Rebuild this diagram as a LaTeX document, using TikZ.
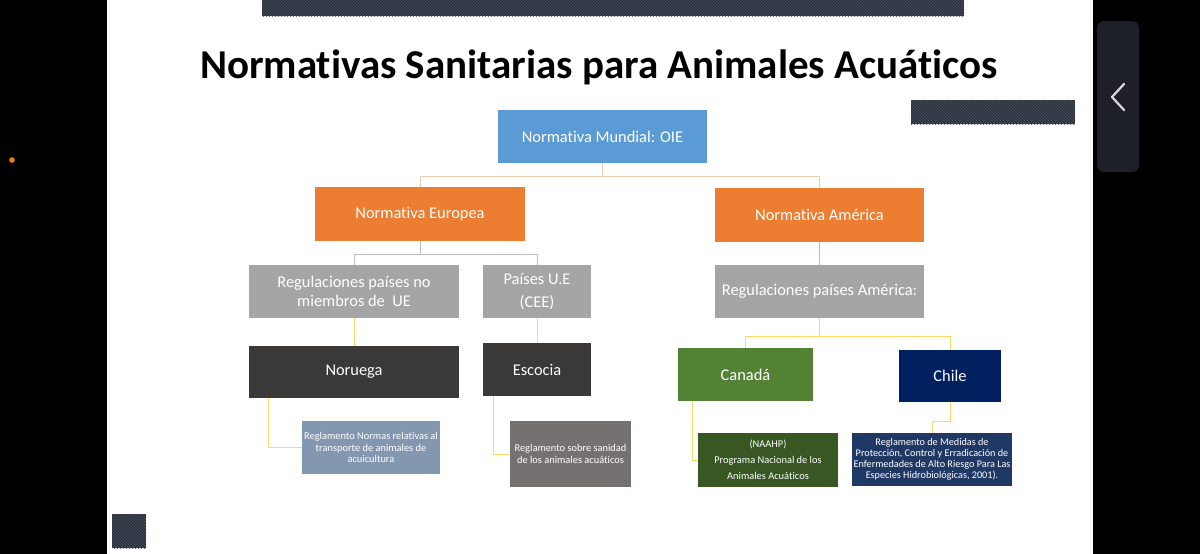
\documentclass[tikz,border=0pt]{standalone}
\usepackage{fontspec}
\setmainfont[Ligatures=NoCommon]{Carlito}
\usetikzlibrary{positioning,patterns}

\definecolor{azulOIE}{HTML}{5B9BD5}
\definecolor{naranja}{HTML}{ED7D31}
\definecolor{gris}{HTML}{A5A5A5}
\definecolor{oscuro}{HTML}{3B3838}
\definecolor{grisazul}{HTML}{8497B0}
\definecolor{grismedio}{HTML}{767171}
\definecolor{verde}{HTML}{548235}
\definecolor{verdeosc}{HTML}{385723}
\definecolor{marino}{HTML}{002060}
\definecolor{marinodet}{HTML}{203864}
\definecolor{lineatan}{HTML}{EDCDAE}
\definecolor{lineagris}{HTML}{BDBDBD}
\definecolor{lineaamar}{HTML}{FFD966}
\definecolor{barra}{HTML}{2C323D}
\definecolor{barralinea}{HTML}{4A515E}
\definecolor{boton}{HTML}{1E2028}

\begin{document}
\begin{tikzpicture}[x=1pt, y=-1pt,
                    every node/.append style={align=center, text=white},
                    caja/.style={fill=#1, inner sep=2pt, font=\fontsize{16.4}{19.5}\selectfont},
                    det/.style={fill=#1, inner sep=2pt, font=\fontsize{10.4}{11.2}\selectfont},
                    con/.style={draw=#1, line width=1pt}]

                   % fondo de la captura
                   \useasboundingbox (0,0) rectangle (1200,554);
                   \fill[black] (0,0) rectangle (1200,554);
                   \fill[white] (107,0) rectangle (1093,554);
                   \fill[boton, rounded corners=7pt] (1097,21) rectangle (1139,172);
                   \draw[white!85!black, line width=2.2pt, line cap=round, line join=round] (1124,84) -- (1112,97) -- (1124,110);
                   \fill[orange!80!brown] (12,160) circle (2.8);

                   % barras decorativas
                   \fill[barra] (262,0) rectangle (964,16);
                   \fill[pattern=north west lines, pattern color=barralinea] (262,0) rectangle (964,16);
                   \fill[barra] (911,100) rectangle (1075,124);
                   \fill[pattern=north west lines, pattern color=barralinea] (911,100) rectangle (1075,124);
                   \fill[barra] (112,514) rectangle (146,548);
                   \fill[pattern=north west lines, pattern color=barralinea] (112,514) rectangle (146,548);

                   \node [text=black, font=\bfseries\fontsize{41}{44}\selectfont] (titulo) at (599,67) {Normativas Sanitarias para Animales Acuáticos};

                   \node [caja=azulOIE, minimum width=209, minimum height=53] (oie)      at (602.5,136.5) {Normativa Mundial: OIE};
                   \node [caja=naranja, minimum width=210, minimum height=54] (europa)   at (420,214)     {Normativa Europea};
                   \node [caja=naranja, minimum width=209, minimum height=54] (america)  at (819.5,215)   {Normativa América};

                   \node [caja=gris, minimum width=210, minimum height=53] (noUE)        at (354,291.5)   {Regulaciones países no\\miembros de~~UE};
                   \node [caja=gris, minimum width=108, minimum height=53] (UE)          at (537,291.5)   {Países U.E\\[4pt](CEE)};
                   \node [caja=gris, minimum width=209, minimum height=53] (regamerica)  at (819.5,291.5) {Regulaciones países América:};

                   \node [caja=oscuro, minimum width=210, minimum height=52] (noruega)  at (354,372)     {Noruega};
                   \node [caja=oscuro, minimum width=108, minimum height=53] (escocia)  at (537,369.5)   {Escocia};
                   \node [caja=verde, minimum width=135, minimum height=53] (canada)    at (745.5,374.5) {Canadá};
                   \node [caja=marino, minimum width=102, minimum height=52] (chile)    at (950,376)     {Chile};

                   \node [det=grisazul, minimum width=138, minimum height=53] (detnoruega)  at (371,447.5) {Reglamento Normas relativas al\\transporte de animales de\\acuicultura};
                   \node [det=grismedio, minimum width=121, minimum height=66] (detescocia) at (570.5,454) {Reglamento sobre sanidad\\de los animales acuáticos};
                   \node [det=verdeosc, minimum width=140, minimum height=54,
                          font=\fontsize{10.4}{16}\selectfont] (detcanada)               at (768,460)   {(NAAHP)\\Programa Nacional de los\\Animales Acuáticos};
                   \node [det=marinodet, minimum width=160, minimum height=53, inner xsep=1pt,
                          font=\fontsize{10.2}{11}\selectfont] (detchile)                at (932,459.5) {Reglamento de Medidas de\\Protección, Control y Erradicación de\\Enfermedades de Alto Riesgo Para Las\\Especies Hidrobiológicas, 2001).};

                   \path[con=lineatan] (oie.south) -- ++(0,13) -| (europa.north);
                   \path[con=lineatan] (oie.south) -- ++(0,13) -| (america.north);
                   \path[con=lineagris] (europa.south) -- ++(0,13) -| (noUE.north);
                   \path[con=lineagris] (europa.south) -- ++(0,13) -| (UE.north);
                   \path[con=lineagris] (america.south) -- (regamerica.north);

                   \path[con=lineaamar] (noUE.south) -- (noruega.north);
                   \path[con=lineaamar] (UE.south) -- (escocia.north);
                   \path[con=lineaamar] (regamerica.south) -- ++(0,18) -| (canada.north);
                   \path[con=lineaamar] (regamerica.south) -- ++(0,18) -| (chile.north);

                   \path[con=lineaamar] (noruega.south west) ++(20,0) |- (detnoruega.west);
                   \path[con=lineaamar] (escocia.south west) ++(11,0) |- (detescocia.west);
                   \path[con=lineaamar] (canada.south west) ++(15,0) |- (detcanada.west);
                   \path[con=lineaamar] (chile.south) -- ++(0,19) -| (detchile.north);
\end{tikzpicture}
\end{document}
